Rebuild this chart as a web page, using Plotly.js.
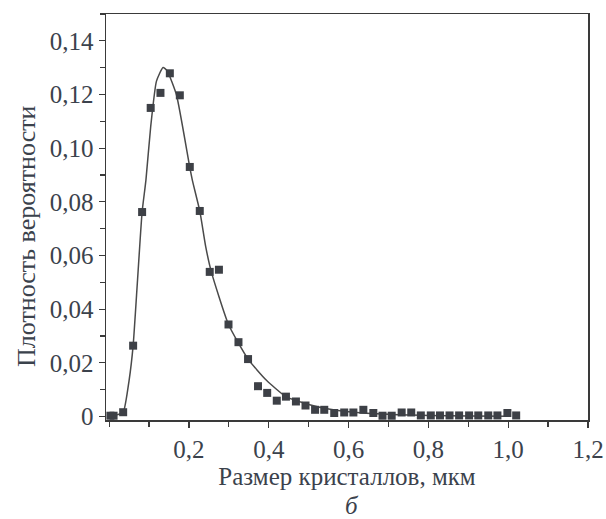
<!DOCTYPE html>
<html>
<head>
<meta charset="utf-8">
<script src="https://cdn.plot.ly/plotly-3.0.1.min.js"></script>
<style>html,body{margin:0;padding:0;background:#fff;}#chart{width:606px;height:519px;}</style>
</head>
<body>
<div id="chart"></div>
<script>
// Measured histogram points (crystal size, µm -> probability density)
const sizeX = [0.003, 0.011, 0.035, 0.060, 0.0825, 0.104, 0.1285, 0.152, 0.177, 0.202,
  0.227, 0.252, 0.275, 0.299, 0.324, 0.348, 0.373, 0.396, 0.420, 0.443,
  0.468, 0.492, 0.516, 0.539, 0.564, 0.589, 0.612, 0.637, 0.662, 0.685,
  0.708, 0.733, 0.757, 0.781, 0.806, 0.829, 0.853, 0.877, 0.902, 0.925,
  0.950, 0.973, 0.998, 1.020];
const densityY = [0.0003, 0.0003, 0.0016, 0.0264, 0.0762, 0.115, 0.1206, 0.1279, 0.1197, 0.093,
  0.0766, 0.0539, 0.0547, 0.0343, 0.0277, 0.0214, 0.0113, 0.0088, 0.0059, 0.0074,
  0.0056, 0.0041, 0.0025, 0.0025, 0.0013, 0.0015, 0.0015, 0.0025, 0.0013, 0.0003,
  0.0003, 0.0015, 0.0015, 0.0004, 0.0004, 0.0004, 0.0004, 0.0004, 0.0004, 0.0004,
  0.0004, 0.0004, 0.0013, 0.0004];

// Fitted curve
const fitX = [0.002, 0.0185, 0.035, 0.050, 0.060, 0.071, 0.0825, 0.092, 0.104, 0.1185,
  0.135, 0.145, 0.1685, 0.2018, 0.2085, 0.227, 0.242, 0.256, 0.299, 0.348,
  0.3935, 0.443, 0.50, 0.55, 0.60, 0.70, 0.80, 0.90, 1.00];
const fitY = [0.0002, 0.0006, 0.0016, 0.0136, 0.0264, 0.0508, 0.0762, 0.088, 0.108, 0.125,
  0.1301, 0.1289, 0.1199, 0.093, 0.088, 0.0766, 0.0632, 0.0539, 0.0343, 0.0214,
  0.0136, 0.0074, 0.0045, 0.0028, 0.0018, 0.0008, 0.0004, 0.0002, 0.0001];

const yTickVals = [0, 0.02, 0.04, 0.06, 0.08, 0.10, 0.12, 0.14];
const yTickText = ['0', '0,02', '0,04', '0,06', '0,08', '0,10', '0,12', '0,14'];
const xTickVals = [0.2, 0.4, 0.6, 0.8, 1.0, 1.2];
const xTickText = ['0,2', '0,4', '0,6', '0,8', '1,0', '1,2'];

const txt = '#3b424c';
const axc = '#3a3a3a';
const serif = 'Liberation Serif, Times New Roman, DejaVu Serif, serif';

const traces = [
  {x: fitX, y: fitY, type: 'scatter', mode: 'lines',
   line: {color: '#4a4a4a', width: 1.5, shape: 'spline', smoothing: 0.5},
   hoverinfo: 'skip', showlegend: false},
  {x: sizeX, y: densityY, type: 'scatter', mode: 'markers',
   marker: {symbol: 'square', size: 8, color: '#3d4046', line: {width: 0}},
   showlegend: false}
];

const layout = {
  width: 606, height: 519,
  margin: {l: 106, r: 18, t: 14, b: 99},
  paper_bgcolor: '#fff', plot_bgcolor: '#fff',
  font: {family: serif, color: txt, size: 24},
  showlegend: false,
  xaxis: {
    range: [-0.008, 1.2], showgrid: false, zeroline: false,
    showline: true, linecolor: axc, linewidth: 1.5, mirror: true,
    ticks: 'outside', ticklen: 6, tickwidth: 1.2, tickcolor: axc,
    tickvals: xTickVals, ticktext: xTickText,
    tickfont: {family: serif, size: 25, color: txt},
    minor: {dtick: 0.1, tick0: 0, ticks: 'outside', ticklen: 5, tickwidth: 1.2, tickcolor: axc},
    title: {text: 'Размер кристаллов, мкм', font: {family: serif, size: 25, color: txt}, standoff: 4},
    automargin: false
  },
  yaxis: {
    range: [-0.0013, 0.15], showgrid: false, zeroline: false,
    showline: true, linecolor: axc, linewidth: 1.5, mirror: true,
    ticks: 'outside', ticklen: 6, tickwidth: 1.2, tickcolor: axc,
    tickvals: yTickVals, ticktext: yTickText,
    tickfont: {family: serif, size: 25, color: txt},
    minor: {dtick: 0.01, tick0: 0, ticks: 'outside', ticklen: 5, tickwidth: 1.2, tickcolor: axc},
    automargin: false
  },
  annotations: [
    {text: 'Плотность вероятности', textangle: -90, xref: 'paper', yref: 'paper',
     x: (26 - 106) / 482, y: (420 - 236) / 406, xanchor: 'center', yanchor: 'middle', showarrow: false,
     font: {family: serif, size: 26, color: txt}},
    {text: '<i>б</i>', xref: 'paper', yref: 'paper',
     x: (352 - 106) / 482, y: -(505 - 420) / 406, xanchor: 'center', yanchor: 'middle',
     showarrow: false, font: {family: serif, size: 25, color: txt}}
  ]
};

Plotly.newPlot('chart', traces, layout, {staticPlot: true, displayModeBar: false});
</script>
</body>
</html>
